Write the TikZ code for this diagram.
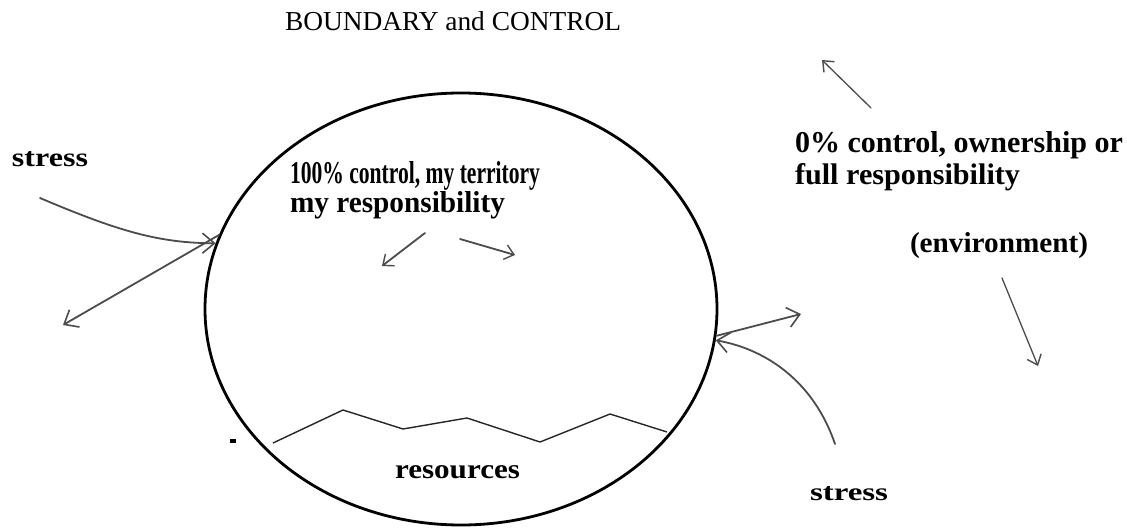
\documentclass[tikz,border=0pt]{standalone}
\usepackage{fontspec}
\setmainfont{Liberation Serif}
\usetikzlibrary{arrows.meta,shapes.geometric}
\newcommand{\fitbox}[3]{\resizebox{#1pt}{#2pt}{#3}}
\begin{document}
\begin{tikzpicture}[x=1pt,y=-1pt,
  lbl/.style={anchor=base west,inner sep=0pt,outer sep=0pt},
  pen/.style={draw=black!70,line width=1.8pt,line cap=round},
  barb/.style={-{Straight Barb[length=12pt,width=20pt,line width=1.6pt]}},
  smallbarb/.style={-{Straight Barb[length=9pt,width=15pt,line width=1.4pt]}}]
\useasboundingbox[fill=white] (0,0) rectangle (1127,529);
% boundary
\node[draw=black,line width=2.8pt,ellipse,minimum width=512pt,minimum height=432pt,inner sep=0pt] (boundary) at (461,309) {};
% texts
\node[lbl] (title) at (285,31) {\fitbox{336}{19}{BOUNDARY and CONTROL}};
\node[lbl] (stressL) at (12,167) {\fitbox{76}{15}{\bfseries stress}};
\node[lbl] (in1) at (290,184) {\fitbox{250}{22}{\bfseries 100\% control, my territory}};
\node[lbl] (in2) at (290,213) {\fitbox{215}{21}{\bfseries my responsibility}};
\node[lbl] (out1) at (795,153) {\fitbox{328}{21}{\bfseries 0\% control, ownership or}};
\node[lbl] (out2) at (795,185) {\fitbox{225}{21}{\bfseries full responsibility}};
\node[lbl] (env) at (910,253) {\fitbox{178}{20}{\bfseries (environment)}};
\node[lbl] (res) at (395,478) {\fitbox{125}{13}{\bfseries resources}};
\node[lbl] (stressR) at (810,500) {\fitbox{78}{14}{\bfseries stress}};
% free ends
\coordinate (sLstart) at (40,198);
\coordinate (lefttip) at (63,325);
\coordinate (inAstart) at (425,233);
\coordinate (inAtip) at (382,266);
\coordinate (inBstart) at (460,239);
\coordinate (inBtip) at (515,255);
\coordinate (righttip) at (801,314);
\coordinate (sRstart) at (835,444);
\coordinate (topstart) at (871,108);
\coordinate (toptip) at (822,60);
\coordinate (envstart) at (1002,278);
\coordinate (envtip) at (1038,366);
% connectors
\draw[pen,barb] (sLstart) .. controls (120,232) and (160,243) .. (boundary.165);
\draw[pen,barb] (boundary.163) -- (lefttip);
\draw[pen,smallbarb] (inAstart) -- (inAtip);
\draw[pen,smallbarb] (inBstart) -- (inBtip);
\draw[pen,barb] (boundary.-6) -- (righttip);
\draw[pen,barb] (sRstart) .. controls (815,385) and (770,350) .. (boundary.-7);
\draw[pen,line width=1.3pt,smallbarb] (topstart) -- (toptip);
\draw[pen,line width=1.3pt,smallbarb] (envstart) -- (envtip);
% resources level
\draw[black!85,line width=1.4pt] (273,443) -- (343,410) -- (403,429) -- (467,418) -- (540,442) -- (610,414) -- (667,432);
\fill[black] (230,439) rectangle (236,443);
\end{tikzpicture}
\end{document}
